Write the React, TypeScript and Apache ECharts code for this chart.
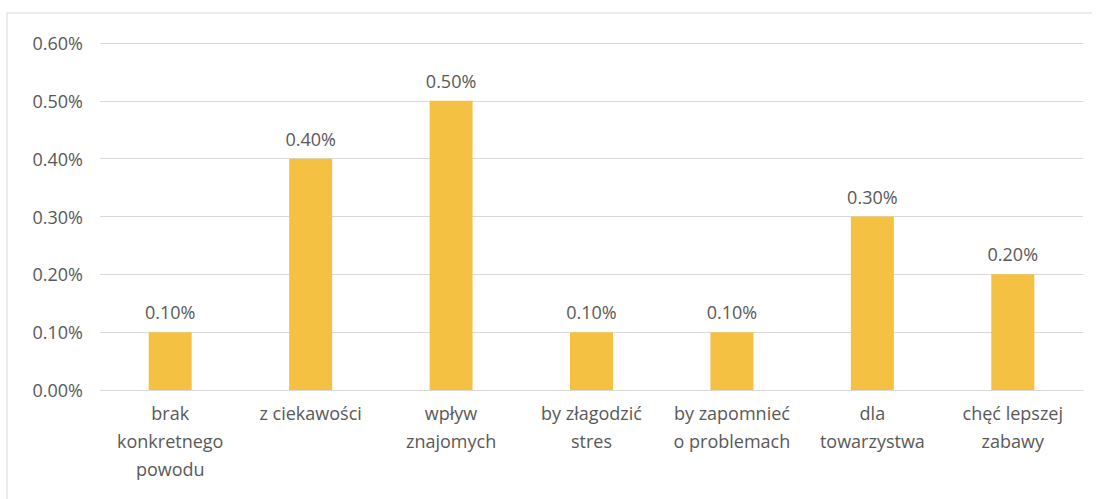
import React, { useEffect, useRef } from "react";
import * as echarts from "echarts";

const categories = [
  "brak\nkonkretnego\npowodu",
  "z ciekawości",
  "wpływ\nznajomych",
  "by złagodzić\nstres",
  "by zapomnieć\no problemach",
  "dla\ntowarzystwa",
  "chęć lepszej\nzabawy",
];
const values = [0.1, 0.4, 0.5, 0.1, 0.1, 0.3, 0.2];
const yTicks = { min: 0, max: 0.6, interval: 0.1 };

const FONT = "'Open Sans', 'Liberation Sans', sans-serif";
const TEXT = "#595959";
const FS = 18;

export default function App() {
  const ref = useRef<HTMLDivElement>(null);
  useEffect(() => {
    if (!ref.current) return;
    const chart = echarts.init(ref.current, undefined, { renderer: "svg" });
    chart.setOption({
      animation: false,
      backgroundColor: "#ffffff",
      textStyle: { fontFamily: FONT },
      grid: { left: 100, right: 15, top: 43, bottom: 109, containLabel: false },
      graphic: [
        {
          type: "line",
          shape: { x1: 7, y1: 13, x2: 1092, y2: 13 },
          style: { stroke: "#d9d9d9", lineWidth: 1 },
          silent: true,
        },
        {
          type: "line",
          shape: { x1: 7, y1: 13, x2: 7, y2: 499 },
          style: { stroke: "#d9d9d9", lineWidth: 1 },
          silent: true,
        },
      ],
      xAxis: {
        type: "category",
        data: categories,
        axisTick: { show: false },
        axisLine: { show: true, lineStyle: { color: "#d9d9d9", width: 1 } },
        axisLabel: {
          color: TEXT,
          fontSize: FS,
          fontFamily: FONT,
          lineHeight: 28,
          margin: 9,
          interval: 0,
        },
      },
      yAxis: {
        type: "value",
        min: yTicks.min,
        max: yTicks.max,
        interval: yTicks.interval,
        axisLine: { show: false },
        axisTick: { show: false },
        splitLine: { lineStyle: { color: "#d9d9d9", width: 1 } },
        axisLabel: {
          color: TEXT,
          fontSize: FS,
          fontFamily: FONT,
          margin: 17,
          formatter: (v: number) => v.toFixed(2) + "%",
        },
      },
      series: [
        {
          type: "bar",
          data: values,
          barWidth: 43,
          itemStyle: { color: "#F5C143" },
          label: {
            show: true,
            position: "top",
            distance: 11,
            color: TEXT,
            fontSize: FS,
            fontFamily: FONT,
            formatter: (p: any) => Number(p.value).toFixed(2) + "%",
          },
        },
      ],
    });
    return () => chart.dispose();
  }, []);
  return <div ref={ref} style={{ width: 1098, height: 499, position: "absolute", left: 0, top: 0 }} />;
}
